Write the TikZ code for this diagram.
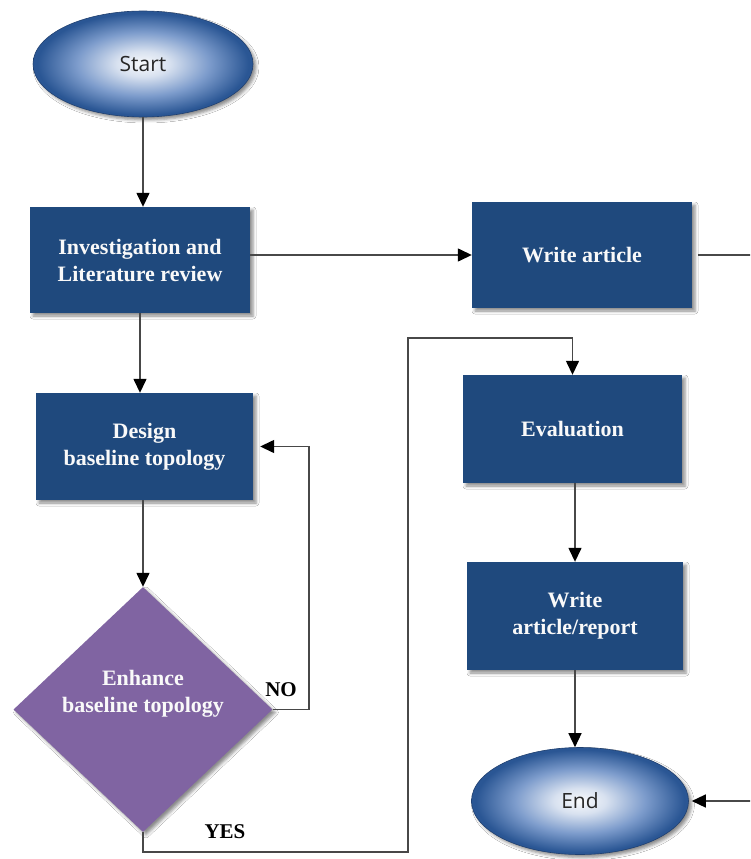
\documentclass[tikz,border=0pt]{standalone}
\usepackage{fontspec}
\setmainfont{Liberation Serif}
\newfontfamily\uisans{Open Sans}
\usetikzlibrary{shapes.geometric,shadows.blur,arrows.meta}

\definecolor{boxblue}{RGB}{31,73,125}
\definecolor{decpurple}{RGB}{128,100,162}
\definecolor{ovaledge}{RGB}{42,86,148}
\definecolor{ovalmid}{RGB}{125,156,204}
\definecolor{ovalrim}{RGB}{32,64,112}
\definecolor{linegray}{RGB}{72,72,72}

% light centre fading to a deep blue rim for the start/end ovals
\pgfdeclareradialshading{ovalfill}{\pgfpoint{0bp}{0bp}}{%
  color(0bp)=(white!95!ovalmid); color(6bp)=(white!70!ovalmid);
  color(15bp)=(ovalmid); color(24bp)=(ovaledge); color(50bp)=(ovaledge)}

\tikzset{
  softshadow/.style={blur shadow={shadow xshift=3pt, shadow yshift=-3pt,
      shadow blur radius=3pt, shadow opacity=45}},
  procbox/.style={rectangle, fill=boxblue, text=white!95!gray, inner sep=0pt,
      align=center, font=\bfseries\fontsize{22}{27}\selectfont, softshadow},
  terminal/.style={ellipse, shading=ovalfill, draw=ovalrim, line width=0.6pt,
      inner sep=0pt, text=black!85, font=\uisans\fontsize{21}{25}\selectfont,
      softshadow},
  decision/.style={diamond, fill=decpurple, inner sep=0pt, softshadow},
  decisiontext/.style={align=center, text=white!95!gray,
      font=\bfseries\fontsize{22}{27}\selectfont},
  branchlabel/.style={font=\bfseries\fontsize{21}{25}\selectfont, text=black},
  flow/.style={draw=linegray, line width=1.4pt},
  arr/.style={flow, -{Triangle[length=14pt,width=13pt,color=black]}},
}

\begin{document}
\begin{tikzpicture}[x=1pt,y=-1pt]
\useasboundingbox (0,0) rectangle (750,859);
\clip (0,0) rectangle (750,859);
\fill[white] (0,0) rectangle (750,859);

% nodes
\node[terminal, minimum width=220pt, minimum height=106pt] (start) at (143,64) {Start};
\node[procbox, minimum width=220pt, minimum height=106pt] (inv) at (140,260)
  {Investigation and\\Literature review};
\node[procbox, minimum width=220pt, minimum height=106pt] (wa) at (582,255)
  {Write article};
\node[procbox, minimum width=217pt, minimum height=107pt] (des) at (144.5,446.5)
  {Design\\baseline topology};
\node[decision, minimum width=259pt, minimum height=245pt] (dia) at (143,709.5) {};
\node[decisiontext] (diatext) at (143,694) {Enhance\\baseline topology};
\node[procbox, minimum width=219pt, minimum height=108pt] (eval) at (572.5,429)
  {Evaluation};
\node[procbox, minimum width=216pt, minimum height=108pt] (rep) at (575,616)
  {Write\\article/report};
\node[terminal, minimum width=217pt, minimum height=107pt] (fin) at (580,801) {End};

\node[branchlabel] (nolab) at (281,690) {NO};
\node[branchlabel] (yeslab) at (225,832) {YES};

% routing points
\coordinate (offright) at (775,255);
\coordinate (noturn) at (309,709.5);
\coordinate (yesdown) at (143,852);
\coordinate (yesright) at (408,852);
\coordinate (yesup) at (408,338);

% connectors
\draw[arr] (start.south) -- (start.south |- inv.north);
\draw[arr] (inv.east |- wa.west) -- (wa.west);
\draw[arr] ([xshift=6pt]wa.east) -- (offright) -- (offright |- fin.east)
  -- ([xshift=3pt]fin.east);
\draw[arr] (inv.south) -- (inv.south |- des.north);
\draw[arr] (dia.north |- des.south) -- (dia.north);
\draw[arr] (dia.east) -- (noturn) -- (noturn |- des.east) -- ([xshift=7pt]des.east);
\draw[arr] (dia.south) -- (yesdown) -- (yesright) -- (yesup)
  -- (yesup -| eval.north) -- (eval.north);
\draw[arr] (rep.north |- eval.south) -- (rep.north);
\draw[arr] (rep.south) -- (rep.south |- fin.north);
\end{tikzpicture}
\end{document}
